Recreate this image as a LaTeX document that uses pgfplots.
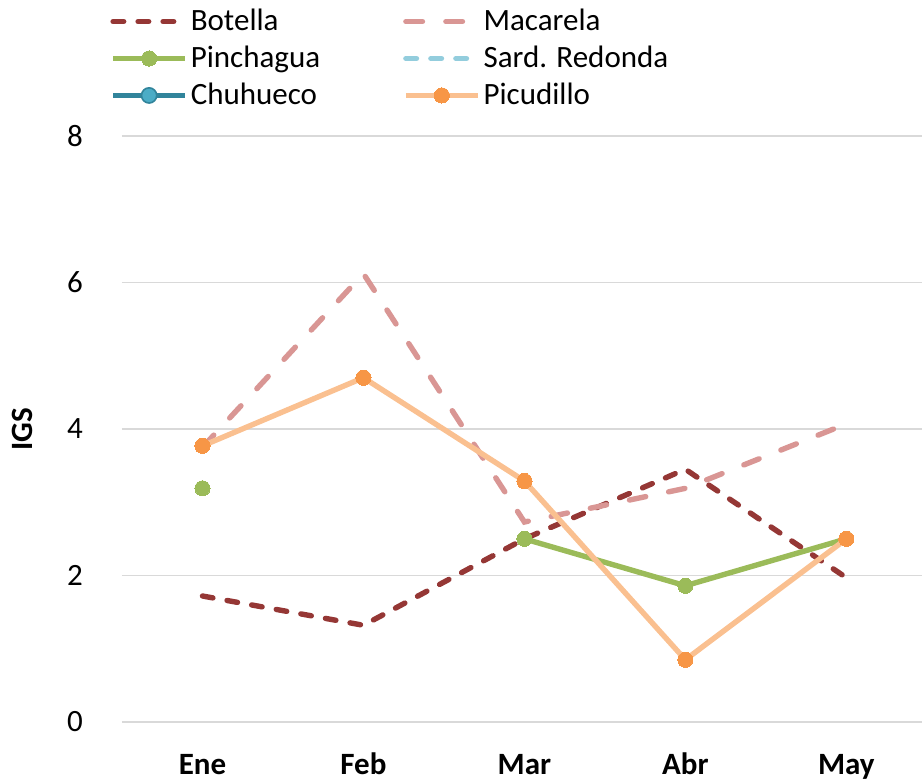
\documentclass[border=0pt]{standalone}
\usepackage{fontspec}
\setmainfont{Carlito}
\usepackage{pgfplots}
\pgfplotsset{compat=1.18}
\definecolor{botella}{HTML}{953735}
\definecolor{macarela}{HTML}{D99694}
\definecolor{pinch}{HTML}{9BBB59}
\definecolor{sard}{HTML}{93CDDD}
\definecolor{chuline}{HTML}{31849B}
\definecolor{chumark}{HTML}{4BACC6}
\definecolor{picline}{HTML}{FAC090}
\definecolor{picmark}{HTML}{F79646}
\definecolor{gridc}{HTML}{D9D9D9}
\begin{document}
\begin{tikzpicture}
\useasboundingbox (-61pt,-29pt) rectangle (400pt,361pt);
\begin{axis}[
  at={(0pt,0pt)}, anchor=south west,
  scale only axis, width=400pt, height=293pt,
  xmin=-0.5, xmax=4.47, ymin=0, ymax=8,
  xtick={0,1,2,3,4}, xticklabels={Ene,Feb,Mar,Abr,May},
  ytick={0,2,4,6,8},
  axis line style={draw=none},
  major tick length=0pt,
  ymajorgrids, grid style={gridc, line width=0.8pt},
  /pgf/number format/assume math mode=true,
  tick label style={font=\fontsize{15.5}{18}\selectfont},
  xticklabel style={font=\fontsize{15.5}{18}\selectfont\bfseries, text height=11pt, text depth=3pt, anchor=north, yshift=-11.5pt},
  yticklabel style={xshift=-16pt},
  ylabel={IGS},
  ylabel style={at={(axis description cs:-0.124,0.5)}, anchor=center, font=\fontsize{15.5}{18}\selectfont\bfseries},
  unbounded coords=jump,
  legend columns=2,
  legend cell align=left,
  legend style={at={(axis description cs:-0.015,1.222)}, anchor=north west, draw=none, fill=none, inner sep=0pt,
    font=\fontsize{15.5}{18}\selectfont, row sep=3.2pt,
    /tikz/every even column/.append style={column sep=40pt},
    nodes={inner sep=1.5pt}},
  legend image code/.code={\draw[mark repeat=2,mark phase=2,#1] plot coordinates {(0pt,0pt) (18pt,0pt) (36pt,0pt)};},
]
\addplot[botella, line width=2.7pt, line cap=round, dash pattern=on 5.3pt off 7.2pt] coordinates {(0,1.72) (1,1.32) (2,2.5) (3,3.45) (4,1.97)};
\addlegendentry{Botella}
\addplot[macarela, line width=2.7pt, line cap=round, dash pattern=on 8.3pt off 11.7pt] coordinates {(0,3.75) (1,6.12) (2,2.73) (3,3.19) (4,4.07)};
\addlegendentry{Macarela}
\addplot[pinch, line width=2.7pt, mark=*, mark size=3.8pt, mark options={solid, fill=pinch, draw=pinch, line width=0pt}] coordinates {(0,3.19) (1,nan) (2,2.5) (3,1.86) (4,2.5)};
\addlegendentry{Pinchagua}
\addlegendimage{sard, line width=2.7pt, line cap=round, dash pattern=on 5.3pt off 7.2pt}
\addlegendentry{Sard. Redonda}
\addlegendimage{chuline, line width=2.7pt, mark=*, mark size=3.8pt, mark options={solid, fill=chumark, draw=chuline, line width=0.8pt}}
\addlegendentry{Chuhueco}
\addplot[picline, line width=2.7pt, mark=*, mark size=3.8pt, mark options={solid, fill=picmark, draw=picmark, line width=0pt}] coordinates {(0,3.77) (1,4.70) (2,3.29) (3,0.85) (4,2.5)};
\addlegendentry{Picudillo}
\end{axis}
\end{tikzpicture}
\end{document}
